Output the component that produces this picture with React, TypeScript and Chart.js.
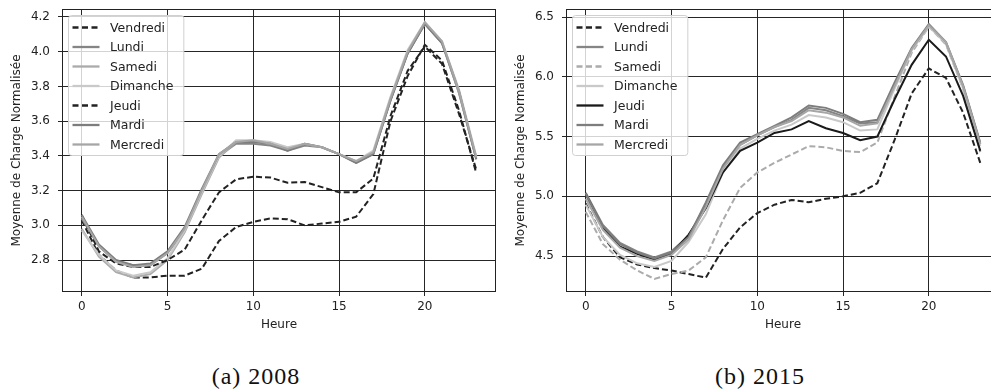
import React, { useEffect, useRef } from 'react';
import { Chart, registerables } from 'chart.js';
Chart.register(...registerables);

// ---------- data ----------
const hours = [0, 1, 2, 3, 4, 5, 6, 7, 8, 9, 10, 11, 12, 13, 14, 15, 16, 17, 18, 19, 20, 21, 22, 23];
const xTicks = [0, 5, 10, 15, 20];
const yTicks2008 = [2.8, 3.0, 3.2, 3.4, 3.6, 3.8, 4.0, 4.2];
const yTicks2015 = [4.5, 5.0, 5.5, 6.0, 6.5];
const dayLabels = ['Vendredi', 'Lundi', 'Samedi', 'Dimanche', 'Jeudi', 'Mardi', 'Mercredi'];

const vendredi2008 = [3.03, 2.83, 2.74, 2.70, 2.70, 2.71, 2.71, 2.75, 2.91, 2.99, 3.02, 3.04, 3.035, 3.00, 3.01, 3.02, 3.05, 3.18, 3.60, 3.86, 4.04, 3.95, 3.66, 3.30];
const lundi2008 = [3.04, 2.88, 2.79, 2.77, 2.77, 2.84, 2.97, 3.19, 3.40, 3.47, 3.47, 3.46, 3.43, 3.46, 3.45, 3.41, 3.36, 3.41, 3.72, 3.99, 4.16, 4.05, 3.76, 3.38];
const samedi2008 = [2.98, 2.82, 2.73, 2.70, 2.72, 2.80, 2.96, 3.18, 3.39, 3.48, 3.48, 3.47, 3.44, 3.47, 3.45, 3.41, 3.37, 3.42, 3.73, 4.00, 4.16, 4.05, 3.76, 3.39];
const dimanche2008 = [2.97, 2.83, 2.74, 2.71, 2.73, 2.81, 2.97, 3.19, 3.40, 3.49, 3.49, 3.48, 3.45, 3.47, 3.45, 3.41, 3.37, 3.43, 3.74, 4.01, 4.17, 4.06, 3.78, 3.40];
const jeudi2008 = [3.06, 2.85, 2.78, 2.76, 2.76, 2.80, 2.86, 3.03, 3.19, 3.265, 3.28, 3.275, 3.245, 3.25, 3.22, 3.19, 3.19, 3.27, 3.63, 3.89, 4.03, 3.93, 3.64, 3.32];
const mardi2008 = [3.06, 2.89, 2.80, 2.77, 2.78, 2.85, 2.99, 3.21, 3.41, 3.48, 3.48, 3.47, 3.43, 3.47, 3.45, 3.41, 3.36, 3.41, 3.72, 3.99, 4.16, 4.05, 3.77, 3.38];
const mercredi2008 = [3.05, 2.88, 2.79, 2.76, 2.77, 2.84, 2.98, 3.20, 3.41, 3.48, 3.49, 3.47, 3.44, 3.47, 3.45, 3.41, 3.37, 3.42, 3.73, 4.00, 4.17, 4.06, 3.77, 3.39];

const vendredi2015 = [4.94, 4.66, 4.49, 4.43, 4.40, 4.38, 4.35, 4.32, 4.56, 4.74, 4.86, 4.93, 4.97, 4.95, 4.98, 5.00, 5.03, 5.11, 5.47, 5.86, 6.07, 5.99, 5.70, 5.28];
const lundi2015 = [5.03, 4.76, 4.61, 4.54, 4.49, 4.54, 4.67, 4.93, 5.24, 5.43, 5.51, 5.58, 5.64, 5.74, 5.72, 5.67, 5.61, 5.62, 5.93, 6.23, 6.43, 6.28, 5.92, 5.44];
const samedi2015 = [4.87, 4.60, 4.47, 4.38, 4.31, 4.35, 4.38, 4.49, 4.80, 5.07, 5.20, 5.28, 5.35, 5.42, 5.41, 5.38, 5.37, 5.45, 5.83, 6.20, 6.42, 6.27, 5.90, 5.37];
const dimanche2015 = [4.93, 4.66, 4.51, 4.44, 4.41, 4.46, 4.62, 4.85, 5.20, 5.40, 5.48, 5.55, 5.60, 5.68, 5.66, 5.62, 5.55, 5.56, 5.90, 6.22, 6.42, 6.28, 5.90, 5.42];
const jeudi2015 = [5.02, 4.74, 4.58, 4.52, 4.47, 4.52, 4.68, 4.90, 5.20, 5.38, 5.45, 5.53, 5.56, 5.63, 5.57, 5.53, 5.47, 5.50, 5.81, 6.10, 6.31, 6.17, 5.84, 5.38];
const mardi2015 = [5.02, 4.75, 4.60, 4.53, 4.48, 4.53, 4.66, 4.95, 5.26, 5.45, 5.52, 5.59, 5.66, 5.76, 5.74, 5.69, 5.62, 5.64, 5.95, 6.24, 6.44, 6.29, 5.93, 5.45];
const mercredi2015 = [4.98, 4.72, 4.57, 4.50, 4.46, 4.51, 4.64, 4.91, 5.23, 5.43, 5.51, 5.58, 5.63, 5.72, 5.70, 5.66, 5.59, 5.61, 5.92, 6.23, 6.43, 6.29, 5.92, 5.44];

const series2008 = [vendredi2008, lundi2008, samedi2008, dimanche2008, jeudi2008, mardi2008, mercredi2008];
const series2015 = [vendredi2015, lundi2015, samedi2015, dimanche2015, jeudi2015, mardi2015, mercredi2015];

// styles per legend entry
const styles2008 = [
  { color: '#222222', dash: [6, 3] },
  { color: '#858585', dash: [] },
  { color: '#ababab', dash: [] },
  { color: '#c9c9c9', dash: [] },
  { color: '#222222', dash: [6, 3] },
  { color: '#7d7d7d', dash: [] },
  { color: '#a6a6a6', dash: [] },
];
const styles2015 = [
  { color: '#222222', dash: [6, 3] },
  { color: '#858585', dash: [] },
  { color: '#ababab', dash: [6, 3] },
  { color: '#c9c9c9', dash: [] },
  { color: '#1a1a1a', dash: [] },
  { color: '#7d7d7d', dash: [] },
  { color: '#a6a6a6', dash: [] },
];

const FONT = 'DejaVu Sans';
const TEXT = '#222';
const GRID = '#262626';

const framePlugin = {
  id: 'frame',
  afterDatasetsDraw(chart: any) {
    const { ctx, chartArea: a } = chart;
    ctx.save();
    ctx.strokeStyle = '#222';
    ctx.lineWidth = 1;
    ctx.strokeRect(Math.round(a.left) + 0.5, Math.round(a.top) + 0.5, Math.round(a.right - a.left) - 1, Math.round(a.bottom - a.top) - 1);
    ctx.restore();
  },
};

const legendPlugin = {
  id: 'innerLegend',
  afterDraw(chart: any) {
    const { ctx, chartArea: a } = chart;
    const ds = chart.data.datasets;
    ctx.save();
    ctx.font = `12.5px "${FONT}"`;
    let maxW = 0;
    ds.forEach((d: any) => { maxW = Math.max(maxW, ctx.measureText(d.label).width); });
    const bx = a.left + 6.5;
    const by = a.top + 6.5;
    const bw = 48 + maxW + 4;
    const rowH = 19.5;
    const bh = 12 + rowH * (ds.length - 1) + 11;
    ctx.fillStyle = 'rgba(255,255,255,0.8)';
    ctx.strokeStyle = '#d0d0d0';
    ctx.lineWidth = 1;
    ctx.beginPath();
    (ctx as any).roundRect(bx, by, bw, bh, 3);
    ctx.fill();
    ctx.stroke();
    ds.forEach((d: any, i: number) => {
      const cy = by + 12 + i * rowH;
      ctx.strokeStyle = d.borderColor;
      ctx.lineWidth = 2.3;
      ctx.setLineDash(d.borderDash && d.borderDash.length ? [6, 3.5] : []);
      ctx.beginPath();
      ctx.moveTo(bx + 4, cy);
      ctx.lineTo(bx + 31, cy);
      ctx.stroke();
      ctx.setLineDash([]);
      ctx.fillStyle = TEXT;
      ctx.textBaseline = 'middle';
      ctx.textAlign = 'left';
      ctx.fillText(d.label, bx + 41.5, cy + 1);
    });
    ctx.restore();
  },
};

type PanelProps = {
  left: number;
  series: number[][];
  styles: { color: string; dash: number[] }[];
  yTicks: number[];
  yMin: number;
  yMax: number;
};

function Panel({ left, series, styles, yTicks, yMin, yMax }: PanelProps) {
  const ref = useRef<HTMLCanvasElement | null>(null);
  useEffect(() => {
    if (!ref.current) return;
    const n = series.length;
    const chart = new Chart(ref.current, {
      type: 'line',
      data: {
        labels: hours,
        datasets: series.map((s, i) => ({
          label: dayLabels[i],
          data: s.map((v, j) => ({ x: hours[j], y: v })),
          borderColor: styles[i].color,
          borderWidth: 2,
          borderDash: styles[i].dash,
          pointRadius: 0,
          tension: 0,
          fill: false,
          order: n - i,
        })),
      },
      options: {
        animation: false,
        responsive: false,
        devicePixelRatio: 1,
        layout: { padding: { left: 0, top: 9, right: 4, bottom: 5 } },
        plugins: { legend: { display: false }, tooltip: { enabled: false } },
        scales: {
          x: {
            type: 'linear',
            min: -1.15,
            max: 24.15,
            afterBuildTicks: (scale: any) => { scale.ticks = xTicks.map((v) => ({ value: v })); },
            afterFit: (scale: any) => { scale.height = 43; scale.paddingLeft = 0; scale.paddingRight = 0; },
            ticks: { color: TEXT, font: { family: FONT, size: 12 }, padding: 4, maxRotation: 0, callback: (v: any) => String(v) },
            grid: { color: GRID, lineWidth: 1, tickLength: 4, drawTicks: true },
            border: { display: false },
            title: { display: true, text: 'Heure', color: TEXT, font: { family: FONT, size: 12 }, padding: { top: 0, bottom: 3 } },
          },
          y: {
            type: 'linear',
            min: yMin,
            max: yMax,
            afterBuildTicks: (scale: any) => { scale.ticks = yTicks.map((v) => ({ value: v })); },
            afterFit: (scale: any) => { scale.width = 62; scale.paddingTop = 0; scale.paddingBottom = 0; },
            ticks: { color: TEXT, font: { family: FONT, size: 12 }, padding: 8, callback: (v: any) => Number(v).toFixed(1) },
            grid: { color: GRID, lineWidth: 1, tickLength: 4, drawTicks: true },
            border: { display: false },
            title: { display: true, text: 'Moyenne de Charge Normalisée', color: TEXT, font: { family: FONT, size: 12 }, padding: { top: 10, bottom: 0 } },
          },
        },
      },
      plugins: [framePlugin, legendPlugin],
    } as any);
    return () => chart.destroy();
  }, []);
  return (
    <canvas
      ref={ref}
      width={500}
      height={340}
      style={{ position: 'absolute', left, top: 0, width: 500, height: 340 }}
    />
  );
}

const captionStyle: React.CSSProperties = {
  position: 'absolute',
  top: 362,
  width: 200,
  textAlign: 'center',
  fontFamily: '"Liberation Serif", serif',
  fontSize: 24,
  letterSpacing: 1,
  color: '#111',
  lineHeight: '28px',
};

export default function App() {
  return (
    <div style={{ position: 'fixed', left: 0, top: 0, width: 991, height: 391, overflow: 'hidden', background: '#fff' }}>
      <Panel left={0} series={series2008} styles={styles2008} yTicks={yTicks2008} yMin={2.616} yMax={4.246} />
      <Panel left={504} series={series2015} styles={styles2015} yTicks={yTicks2015} yMin={4.2} yMax={6.567} />
      <div style={{ ...captionStyle, left: 256 - 100 }}>(a) 2008</div>
      <div style={{ ...captionStyle, left: 760 - 100 }}>(b) 2015</div>
    </div>
  );
}
